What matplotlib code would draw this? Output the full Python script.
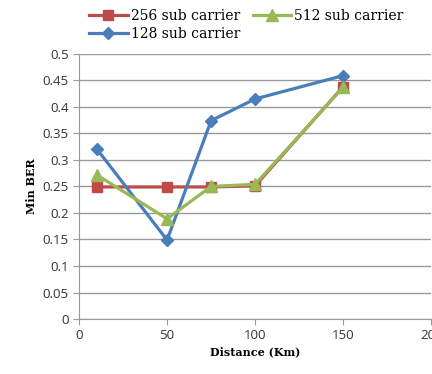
import numpy as np
import matplotlib.pyplot as plt

# distance (km) and minimum BER per sub-carrier count
distance = [10, 50, 75, 100, 150]
ber_256 = [0.249, 0.249, 0.249, 0.251, 0.438]
ber_128 = [0.321, 0.149, 0.374, 0.415, 0.459]
ber_512 = [0.272, 0.189, 0.250, 0.254, 0.437]

xticks = [0, 50, 100, 150, 200]
yticks = np.round(np.arange(0, 0.501, 0.05), 2)
ytick_labels = ['0', '0.05', '0.1', '0.15', '0.2', '0.25', '0.3', '0.35', '0.4', '0.45', '0.5']

grid_col = '#999999'
tick_font = 'Open Sans'
serif = 'DejaVu Serif'

fig = plt.figure(figsize=(4.32, 3.74), dpi=100)
ax = fig.add_axes([0.183, 0.147, 0.815, 0.709])

l256, = ax.plot(distance, ber_256, color='#be4b48', lw=2.3, marker='s', ms=7.5, label='256 sub carrier')
l128, = ax.plot(distance, ber_128, color='#4a7ebb', lw=2.3, marker='D', ms=6, label='128 sub carrier')
l512, = ax.plot(distance, ber_512, color='#98b954', lw=2.3, marker='^', ms=8, label='512 sub carrier')

ax.set_xlim(0, 200)
ax.set_ylim(0, 0.5)
ax.set_xticks(xticks)
ax.set_yticks(yticks)
ax.set_yticklabels(ytick_labels)
ax.yaxis.grid(True, color=grid_col, lw=1)
ax.set_axisbelow(True)
for s in ['top', 'right']:
    ax.spines[s].set_visible(False)
for s in ['left', 'bottom']:
    ax.spines[s].set_color(grid_col)
ax.tick_params(axis='both', colors=grid_col, labelcolor='#333333', labelsize=9.5, length=4)
for lab in ax.get_xticklabels() + ax.get_yticklabels():
    lab.set_family(tick_font)

ax.set_xlabel('Distance (Km)', fontsize=8, fontweight='bold', family=serif, labelpad=3)
ax.set_ylabel('Min BER', fontsize=8, fontweight='bold', family=serif, labelpad=4)

leg = fig.legend(handles=[l256, l128, l512], ncol=2, loc='upper left',
                 bbox_to_anchor=(0.19, 0.995), frameon=False, handlelength=2.8,
                 columnspacing=0.9, handletextpad=0.2, labelspacing=0.3,
                 prop={'family': serif, 'size': 10}, borderaxespad=0.1)

fig.savefig('out.png', dpi=100)
